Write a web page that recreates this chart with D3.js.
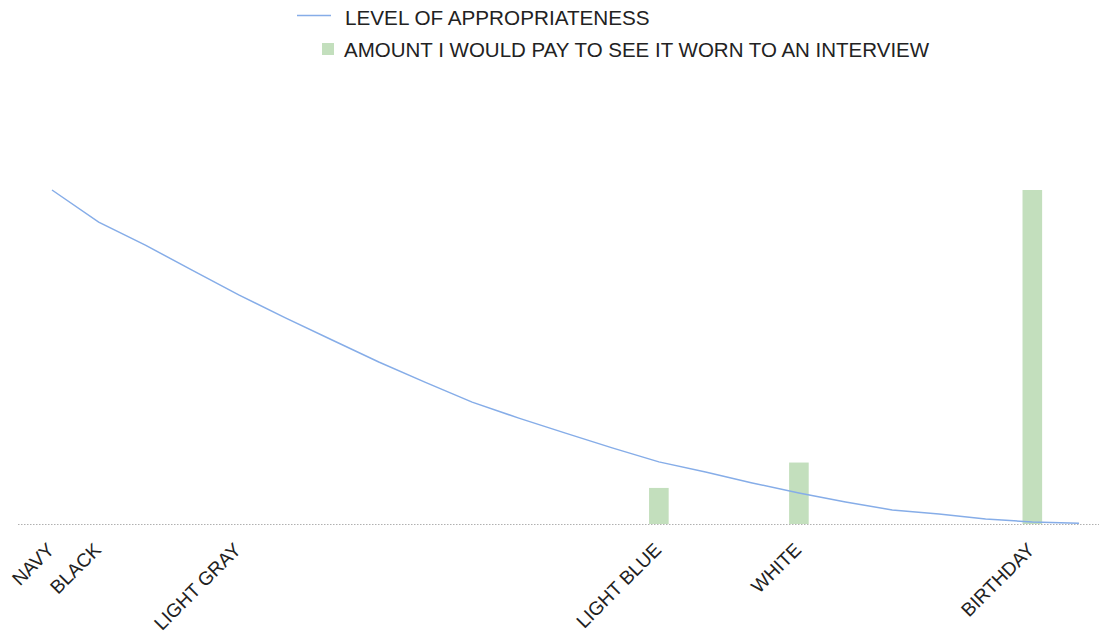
<!DOCTYPE html>
<html>
<head>
<meta charset="utf-8">
<script src="https://cdn.jsdelivr.net/npm/d3@7"></script>
<style>
  html, body { margin: 0; padding: 0; background: #fff; }
  svg { display: block; font-family: "Liberation Sans", Arial, Helvetica, sans-serif; }
</style>
</head>
<body>
<svg id="chart" width="1099" height="641"></svg>
<script>
// ---- data ----
const categories = ["NAVY", "BLACK", "", "", "LIGHT GRAY", "", "", "", "", "", "", "", "",
  "LIGHT BLUE", "", "", "WHITE", "", "", "", "", "BIRTHDAY", ""];
const appropriateness = [100, 90.4, 83.5, 76, 68.6, 61.7, 55.1, 48.5, 42.4, 36.5, 31.7, 27.2, 22.8,
  18.6, 15.6, 12.3, 9.3, 6.6, 4.2, 3, 1.5, 0.6, 0.2];
const amountPaid = [0, 0, 0, 0, 0, 0, 0, 0, 0, 0, 0, 0, 0,
  10.8, 0, 0, 18.4, 0, 0, 0, 0, 100, 0];
const seriesNames = ["LEVEL OF APPROPRIATENESS", "AMOUNT I WOULD PAY TO SEE IT WORN TO AN INTERVIEW"];

// ---- layout ----
const W = 1099, H = 641;
const svg = d3.select("#chart");
const baseY = 524, topY = 190;
const idx = d3.range(categories.length);

const x = d3.scalePoint().domain(idx).range([52, 1079]);
const y = d3.scaleLinear().domain([0, 100]).range([baseY, topY]);
const barW = x.step() * 0.42;

// baseline (dotted)
svg.append("line")
  .attr("x1", 18).attr("x2", W)
  .attr("y1", baseY + 0.5).attr("y2", baseY + 0.5)
  .attr("stroke", "#b0b0b0").attr("stroke-width", 1)
  .attr("stroke-dasharray", "1.5,1.5");

// bars
svg.append("g").selectAll("rect")
  .data(idx.filter(i => amountPaid[i] > 0))
  .join("rect")
  .attr("x", i => x(i) - barW / 2)
  .attr("width", barW)
  .attr("y", i => y(amountPaid[i]))
  .attr("height", i => baseY - y(amountPaid[i]))
  .attr("fill", "#c3dfbd");

// line
svg.append("path")
  .datum(idx)
  .attr("fill", "none")
  .attr("stroke", "#86ade8")
  .attr("stroke-width", 1.5)
  .attr("d", d3.line().x(i => x(i)).y(i => y(appropriateness[i])));

// x axis labels
const xAxis = d3.axisBottom(x).tickSize(0).tickFormat(i => categories[i]);
const gx = svg.append("g").attr("transform", `translate(0,${baseY})`).call(xAxis);
gx.select(".domain").remove();
gx.selectAll("text")
  .attr("font-size", 19)
  .attr("font-family", "\"Liberation Sans\", Arial, sans-serif")
  .attr("fill", "#222")
  .attr("text-anchor", "end")
  .attr("dy", null)
  .attr("y", 0)
  .attr("transform", "translate(3,27) rotate(-45)");

// legend
const lg = svg.append("g").attr("font-size", 20.7).attr("fill", "#222");
lg.append("line").attr("x1", 297).attr("x2", 331).attr("y1", 15.5).attr("y2", 15.5)
  .attr("stroke", "#86ade8").attr("stroke-width", 1.5);
lg.append("text").attr("x", 345).attr("y", 24.5).text(seriesNames[0]);
lg.append("rect").attr("x", 322).attr("y", 43).attr("width", 12).attr("height", 12).attr("fill", "#c3dfbd");
lg.append("text").attr("x", 344).attr("y", 56.5).attr("font-size", 20.5).text(seriesNames[1]);
</script>
</body>
</html>
